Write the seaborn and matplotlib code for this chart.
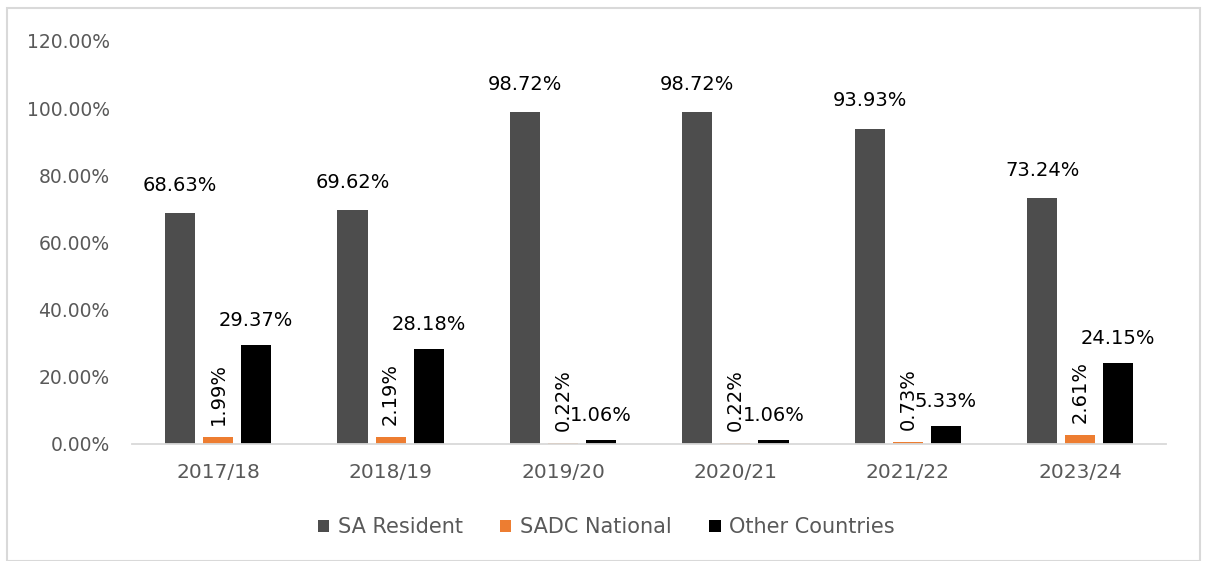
import pandas as pd
import matplotlib.pyplot as plt
import seaborn as sns

# Data
years = ['2017/18', '2018/19', '2019/20', '2020/21', '2021/22', '2023/24']
sa_resident = [68.63, 69.62, 98.72, 98.72, 93.93, 73.24]
sadc_national = [1.99, 2.19, 0.22, 0.22, 0.73, 2.61]
other_countries = [29.37, 28.18, 1.06, 1.06, 5.33, 24.15]
groups = ['SA Resident', 'SADC National', 'Other Countries']
colors = ['#4D4D4D', '#ED7D31', '#000000']
y_ticks = [0, 20, 40, 60, 80, 100, 120]

df = pd.DataFrame({
    'year': years * 3,
    'value': sa_resident + sadc_national + other_countries,
    'group': [g for g in groups for _ in years],
})

sns.set_style("white")
plt.rcParams['font.family'] = ['DejaVu Sans']

fig = plt.figure(figsize=(12.05, 5.61), dpi=100)
ax = fig.add_axes([0.1095, 0.2086, 0.8585, 0.7184])

sns.barplot(data=df, x='year', y='value', hue='group', palette=colors,
            saturation=1, width=0.663, gap=0.21, linewidth=0, ax=ax)

# Value labels: horizontal for SA / Other, vertical for SADC
for i, cont in enumerate(ax.containers):
    labels = [f"{v:.2f}%" for v in cont.datavalues]
    if i == 0:
        ax.bar_label(cont, labels=labels, padding=13, fontsize=14, color='black')
    elif i == 1:
        ax.bar_label(cont, labels=labels, rotation=90, padding=8.5,
                     fontsize=14, color='black')
    else:
        ax.bar_label(cont, labels=labels, padding=11, fontsize=14, color='black')

ax.set_ylim(0, 120)
ax.set_xlim(-0.5, 5.5)
ax.set_yticks(y_ticks)
ax.set_yticklabels([f"{t:.2f}%" for t in y_ticks])
ax.set_xlabel('')
ax.set_ylabel('')
ax.tick_params(axis='y', length=0, pad=16, labelsize=13.5, labelcolor='#595959')
ax.tick_params(axis='x', length=0, pad=14, labelsize=14.5, labelcolor='#595959')

for side in ['top', 'right', 'left']:
    ax.spines[side].set_visible(False)
ax.spines['bottom'].set_color('#D9D9D9')
ax.spines['bottom'].set_linewidth(1.3)

handles, labels = ax.get_legend_handles_labels()
ax.get_legend().remove()
leg = fig.legend(handles, labels, loc='center', bbox_to_anchor=(0.503, 0.06),
                 ncol=3, frameon=False, fontsize=15, handlelength=0.55,
                 handleheight=0.55, handletextpad=0.4, columnspacing=1.8)
for t in leg.get_texts():
    t.set_color('#595959')

# Light grey chart border
border = plt.Rectangle((0.006, 0.0), 0.99, 0.985, transform=fig.transFigure,
                       fill=False, edgecolor='#D9D9D9', linewidth=1.5)
fig.patches.append(border)

fig.savefig('out.png', dpi=100)
